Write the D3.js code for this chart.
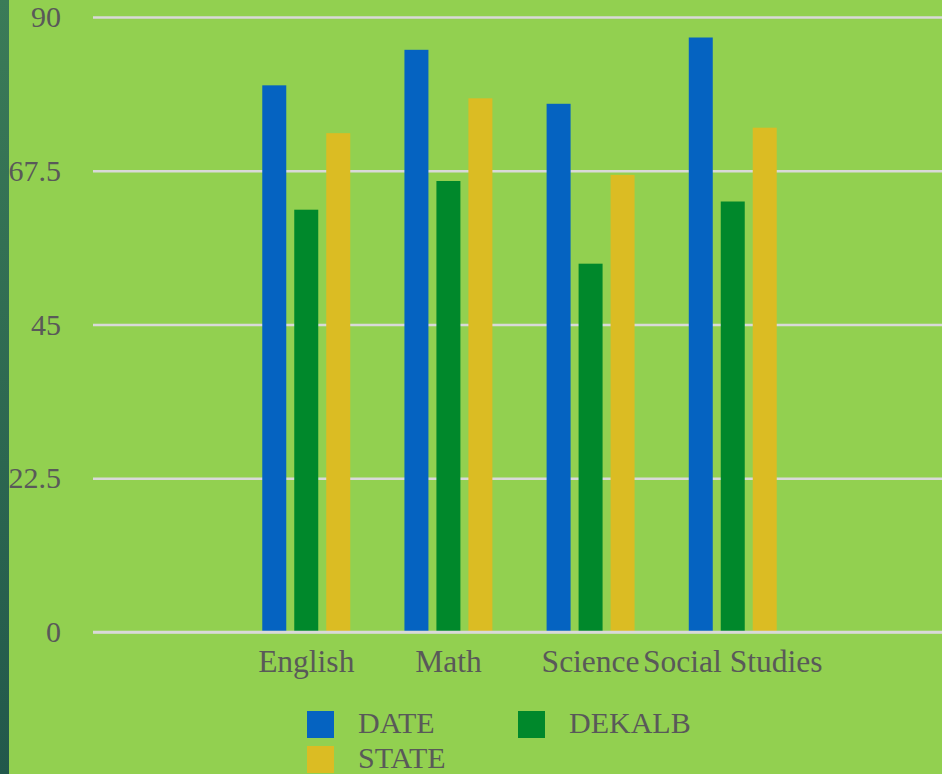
<!DOCTYPE html>
<html>
<head>
<meta charset="utf-8">
<script src="https://cdn.jsdelivr.net/npm/d3@7/dist/d3.min.js"></script>
<style>
  html, body { margin: 0; padding: 0; background: #92d050; }
  svg { display: block; }
  text { font-family: "Liberation Serif", "Times New Roman", serif; fill: #595959; }
</style>
</head>
<body>
<svg id="chart" width="942" height="774"></svg>
<script>
// Test scores by subject
const categories = ["English", "Math", "Science", "Social Studies"];
const seriesNames = ["DATE", "DEKALB", "STATE"];
const dateValues = [80, 85.2, 77.3, 87];
const dekalbValues = [61.8, 66, 53.9, 63];
const stateValues = [73, 78.1, 66.9, 73.8];
const yTicks = [0, 22.5, 45, 67.5, 90];
const colors = ["#0563c1", "#00882b", "#dbbc23"];

const W = 942, H = 774;
const svg = d3.select("#chart");

// background and left accent strip
const defs = svg.append("defs");
const grad = defs.append("linearGradient").attr("id", "strip").attr("x1", 0).attr("y1", 0).attr("x2", 0).attr("y2", 1);
grad.append("stop").attr("offset", 0).attr("stop-color", "#3b7b58");
grad.append("stop").attr("offset", 1).attr("stop-color", "#22584b");
svg.append("rect").attr("width", W).attr("height", H).attr("fill", "#92d050");
svg.append("rect").attr("width", 9).attr("height", H).attr("fill", "url(#strip)");

// plot area
const plotLeft = 93, plotRight = 946, plotTop = 17, plotBottom = 632;
const slot = (plotRight - plotLeft) / 6;

const y = d3.scaleLinear().domain([0, 90]).range([plotBottom, plotTop]);
const x0 = d3.scaleBand()
  .domain(categories)
  .range([plotLeft + slot, plotLeft + 5 * slot])
  .paddingInner(0.3813)
  .paddingOuter(0.19065);
const x1 = d3.scaleBand()
  .domain(seriesNames)
  .range([0, x0.bandwidth()])
  .paddingInner(0.25)
  .paddingOuter(0);

// y axis with gridlines
const yAxis = d3.axisLeft(y)
  .tickValues(yTicks)
  .tickFormat(d => String(d))
  .tickSizeInner(-(W - plotLeft))
  .tickSizeOuter(0)
  .tickPadding(32);
const gy = svg.append("g").attr("transform", `translate(${plotLeft},0)`).call(yAxis);
gy.select(".domain").remove();
gy.selectAll(".tick line").attr("stroke", "#d9d9d9").attr("stroke-width", 2.5);
gy.selectAll(".tick text").attr("font-size", 30).attr("fill", "#595959")
  .attr("font-family", '"Liberation Serif", serif');

// bars
const rows = categories.map((c, i) => ({
  category: c,
  values: [dateValues[i], dekalbValues[i], stateValues[i]]
}));
const groups = svg.append("g").selectAll("g")
  .data(rows)
  .join("g")
  .attr("transform", d => `translate(${x0(d.category)},0)`);
groups.selectAll("rect")
  .data(d => d.values.map((v, j) => ({ name: seriesNames[j], value: v, color: colors[j] })))
  .join("rect")
  .attr("x", d => x1(d.name))
  .attr("width", x1.bandwidth())
  .attr("y", d => y(d.value))
  .attr("height", d => y(0) - y(d.value))
  .attr("fill", d => d.color);

// baseline gridline drawn over bar bottoms
svg.append("line")
  .attr("x1", plotLeft).attr("x2", W)
  .attr("y1", y(0)).attr("y2", y(0))
  .attr("stroke", "#d9d9d9").attr("stroke-width", 2.5);

// category axis
const xAxis = d3.axisBottom(x0).tickSize(0).tickPadding(18);
const gx = svg.append("g").attr("transform", `translate(0,${plotBottom})`).call(xAxis);
gx.select(".domain").remove();
gx.selectAll(".tick text").attr("font-size", 31.5).attr("fill", "#595959")
  .attr("font-family", '"Liberation Serif", serif');

// legend
const legendPos = [
  { sx: 307, sy: 711 },
  { sx: 518, sy: 711 },
  { sx: 307, sy: 746 }
];
const legend = svg.append("g").selectAll("g")
  .data(seriesNames)
  .join("g")
  .attr("transform", (d, i) => `translate(${legendPos[i].sx},${legendPos[i].sy})`);
legend.append("rect")
  .attr("width", 27).attr("height", 27)
  .attr("fill", (d, i) => colors[i]);
legend.append("text")
  .attr("x", 51).attr("y", 22)
  .attr("font-size", 30)
  .text(d => d);
</script>
</body>
</html>
